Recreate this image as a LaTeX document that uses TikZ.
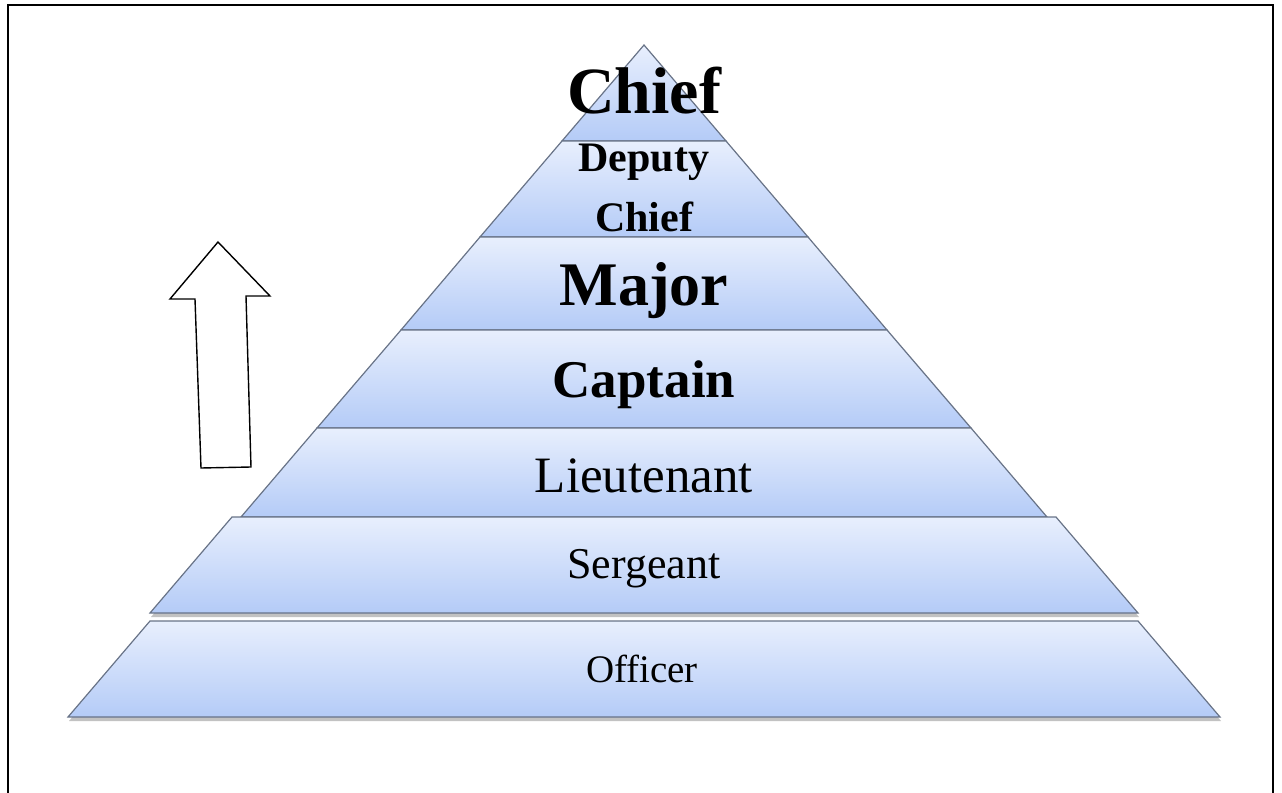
\documentclass[tikz,border=0pt]{standalone}
\usepackage{fontspec}
\setmainfont{Liberation Serif}
\usetikzlibrary{shadows}
\definecolor{tiertop}{HTML}{E8EFFD}
\definecolor{tierbottom}{HTML}{B4CBF7}
\definecolor{tieredge}{HTML}{687387}

\begin{document}
\begin{tikzpicture}[x=0.5pt,y=-0.5pt]
    \tikzstyle{tier} = [draw=tieredge, line width=0.6pt, top color=tiertop, bottom color=tierbottom, drop shadow={shadow xshift=0.5pt, shadow yshift=-2pt, fill=black!60, opacity=0.4}]
    \tikzstyle{rank} = [anchor=base, inner sep=0pt, text=black]
    \useasboundingbox (0,0) rectangle (1282,793);
    % frame, open at the bottom
    \draw[line width=1pt] (7.5,793) -- (7.5,5) -- (1272.5,5) -- (1272.5,793);
    % pyramid tiers, top to bottom
    \path[tier] (644,45) -- (726,141) -- (562,141) -- cycle;
    \path[tier] (562,141) -- (726,141) -- (808,237) -- (480,237) -- cycle;
    \path[tier] (480,237) -- (808,237) -- (887,330) -- (401,330) -- cycle;
    \path[tier] (401,330) -- (887,330) -- (971,428) -- (317,428) -- cycle;
    \path[tier] (317,428) -- (971,428) -- (1047,517) -- (241,517) -- cycle;
    \path[tier] (232,517) -- (1056,517) -- (1138,613) -- (150,613) -- cycle;
    \path[tier] (150,621) -- (1138,621) -- (1220,717) -- (68,717) -- cycle;
    % up arrow
    \draw[line width=0.7pt, fill=white] (218,242) -- (270,296) -- (246,296) -- (251,467) -- (201,468) -- (195,299) -- (170,299) -- cycle;
    % labels
    \node[rank, font=\bfseries\fontsize{33}{36}\selectfont] (chief) at (644,113) {Chief};
    \node[rank, anchor=north, align=center, font=\bfseries\fontsize{21}{30}\selectfont] (deputy) at (644,144) {Deputy\\Chief};
    \node[rank, font=\bfseries\fontsize{31}{34}\selectfont] (major) at (644,305) {Major};
    \node[rank, font=\bfseries\fontsize{26.5}{30}\selectfont] (captain) at (644,397) {Captain};
    \node[rank, font=\fontsize{25.5}{30}\selectfont] (lieutenant) at (644,492) {Lieutenant};
    \node[rank, font=\fontsize{22}{26}\selectfont] (sergeant) at (644,578) {Sergeant};
    \node[rank, font=\fontsize{19.5}{23}\selectfont] (officer) at (642,682) {Officer};
\end{tikzpicture}
\end{document}
